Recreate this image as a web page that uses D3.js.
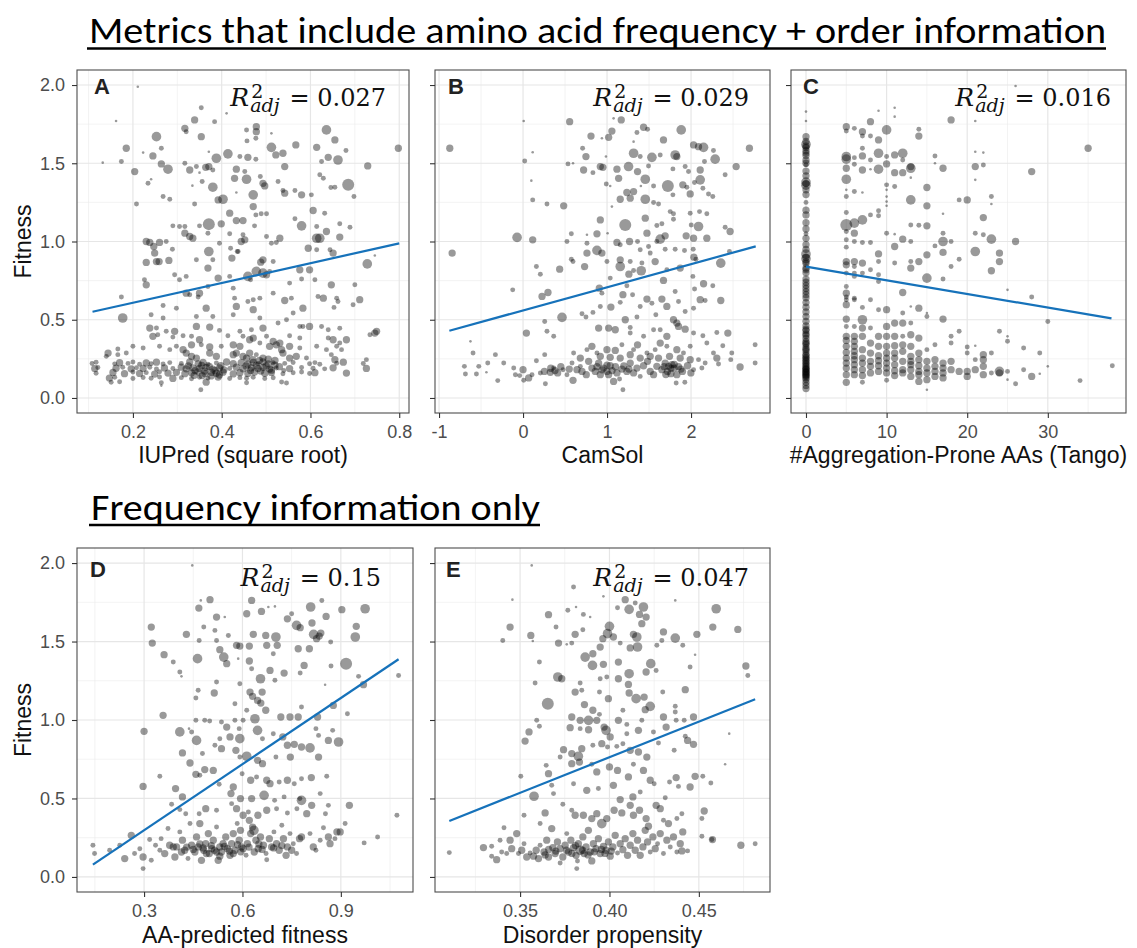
<!DOCTYPE html>
<html><head><meta charset="utf-8">
<script src="https://cdn.jsdelivr.net/npm/d3@7"></script>
<style>body{margin:0;background:#fff}svg{display:block}</style>
</head><body>
<svg id="chart" width="1137" height="948"></svg>
<script>
// ---------------- DATA ----------------
const titleTop = "Metrics that include amino acid frequency + order information";
const titleBottom = "Frequency information only";
const panelLetters = ["A","B","C","D","E"];
const xTitles = ["IUPred (square root)","CamSol","#Aggregation-Prone AAs (Tango)","AA-predicted fitness","Disorder propensity"];
const yTitle = "Fitness";
const r2Values = ["0.027","0.029","0.016","0.15","0.047"];
const yTickValues = [0,0.5,1,1.5,2];
const yTickLabels = ["0.0","0.5","1.0","1.5","2.0"];
const xTicksA = [0.2,0.4,0.6,0.8], xLabelsA = ["0.2","0.4","0.6","0.8"];
const xTicksB = [-1,0,1,2], xLabelsB = ["-1","0","1","2"];
const xTicksC = [0,10,20,30], xLabelsC = ["0","10","20","30"];
const xTicksD = [0.3,0.6,0.9], xLabelsD = ["0.3","0.6","0.9"];
const xTicksE = [0.35,0.40,0.45], xLabelsE = ["0.35","0.40","0.45"];
const fitA = [[0.109,0.551],[0.800,0.988]];
const fitB = [[-0.877,0.430],[2.77,0.969]];
const fitC = [[0,0.839],[37.9,0.509]];
const fitD = [[0.144,0.078],[1.076,1.387]];
const fitE = [[0.3104,0.357],[0.4815,1.132]];

// points: [x, fitness, weight]
const pointsA = [
[0.211,1.989,1],[0.162,1.770,1],[0.354,1.855,2],[0.339,1.777,3],[0.384,1.766,2],[0.411,1.819,1],[0.317,1.723,3],[0.320,1.702,2],[0.456,1.713,2],[0.478,1.734,3],[0.478,1.702,3],[0.636,1.713,4],[0.253,1.670,4],[0.354,1.670,3],[0.457,1.643,2],[0.477,1.660,2],[0.512,1.691,1],[0.655,1.649,3],
[0.185,1.596,3],[0.264,1.596,2],[0.223,1.568,1],[0.245,1.547,3],[0.371,1.574,1],[0.388,1.532,4],[0.414,1.560,4],[0.441,1.543,2],[0.459,1.538,3],[0.477,1.526,2],[0.512,1.602,4],[0.522,1.553,3],[0.538,1.564,3],[0.567,1.617,3],[0.614,1.602,3],[0.640,1.538,3],[0.662,1.521,4],[0.680,1.581,2],[0.798,1.596,3],
[0.174,1.511,2],[0.132,1.504,1],[0.264,1.496,3],[0.279,1.462,4],[0.317,1.500,2],[0.328,1.457,3],[0.343,1.479,2],[0.364,1.474,3],[0.371,1.479,3],[0.380,1.457,2],[0.350,1.440,1],[0.204,1.447,3],[0.433,1.462,3],[0.452,1.447,2],[0.542,1.479,3],[0.625,1.511,2],[0.729,1.483,3],
[0.234,1.372,2],[0.241,1.398,1],[0.334,1.357,1],[0.356,1.383,2],[0.380,1.347,4],[0.429,1.404,3],[0.456,1.398,4],[0.487,1.415,2],[0.493,1.372,3],[0.497,1.355,3],[0.527,1.383,2],[0.621,1.426,2],[0.629,1.404,2],[0.655,1.347,2],[0.646,1.345,2],[0.685,1.362,5],[0.565,1.326,2],[0.538,1.326,2],[0.542,1.309,3],[0.580,1.298,3],[0.602,1.298,2],
[0.268,1.287,2],[0.283,1.270,2],[0.208,1.240,2],[0.392,1.266,3],[0.403,1.270,4],[0.433,1.313,1],[0.471,1.298,4],[0.339,1.240,2],[0.471,1.223,3],[0.698,1.287,2],[0.606,1.198,3],[0.418,1.181,3],[0.477,1.170,2],[0.489,1.177,2],[0.501,1.177,2],[0.565,1.145,2],[0.632,1.181,2],
[0.290,1.100,2],[0.305,1.096,2],[0.317,1.096,2],[0.350,1.100,2],[0.371,1.111,5],[0.399,1.113,3],[0.433,1.134,3],[0.448,1.134,3],[0.474,1.100,2],[0.580,1.100,4],[0.614,1.096,2],[0.666,1.113,2],[0.689,1.091,2],
[0.317,1.053,3],[0.328,1.032,3],[0.335,1.021,3],[0.369,1.053,2],[0.418,1.049,2],[0.448,1.043,2],[0.501,1.032,2],[0.531,1.021,3],[0.636,1.064,3],[0.614,1.021,4],[0.621,1.021,4],[0.666,1.028,3],
[0.230,1.000,3],[0.238,0.994,3],[0.260,0.994,3],[0.275,1.000,2],[0.247,0.968,3],[0.289,0.951,2],[0.371,0.936,4],[0.395,0.989,2],[0.420,0.957,2],[0.437,0.936,2],[0.444,1.000,3],[0.452,1.011,3],[0.523,0.994,2],[0.512,0.989,2],[0.595,0.957,3],[0.614,0.947,2],[0.644,0.947,2],[0.651,0.926,3],
[0.230,0.866,3],[0.249,0.926,3],[0.253,0.872,3],[0.259,0.872,3],[0.281,0.879,3],[0.343,0.883,2],[0.369,0.830,3],[0.380,0.883,2],[0.423,0.894,3],[0.435,0.936,2],[0.488,0.868,3],[0.493,0.883,3],[0.516,0.872,2],[0.478,0.809,4],[0.493,0.798,4],[0.501,0.787,3],[0.576,0.819,3],[0.598,0.819,3],[0.728,0.857,4],[0.745,0.911,1],
[0.226,0.755,2],[0.230,0.723,3],[0.294,0.787,2],[0.305,0.755,2],[0.320,0.777,2],[0.392,0.766,3],[0.418,0.777,2],[0.426,0.702,2],[0.459,0.777,4],[0.465,0.755,2],[0.508,0.809,2],[0.553,0.734,2],[0.580,0.760,2],[0.610,0.755,2],[0.647,0.723,3],[0.700,0.723,2],
[0.174,0.645,2],[0.320,0.670,3],[0.328,0.660,2],[0.350,0.670,3],[0.347,0.645,2],[0.369,0.713,2],[0.429,0.638,2],[0.459,0.617,2],[0.471,0.628,2],[0.486,0.638,2],[0.516,0.670,2],[0.542,0.623,3],[0.557,0.638,2],[0.617,0.649,2],[0.629,0.638,3],[0.659,0.638,2],[0.711,0.628,3],[0.662,0.617,2],[0.696,0.596,2],
[0.268,0.591,2],[0.298,0.574,2],[0.365,0.574,3],[0.433,0.585,3],[0.471,0.564,3],[0.583,0.574,3],[0.653,0.579,2],
[0.177,0.511,4],[0.241,0.532,2],[0.268,0.511,2],[0.343,0.521,2],[0.380,0.521,2],[0.426,0.532,2],[0.486,0.511,2],[0.527,0.479,2],[0.546,0.500,2],[0.561,0.543,2],
[0.238,0.447,3],[0.253,0.447,2],[0.275,0.426,2],[0.294,0.426,3],[0.343,0.457,3],[0.373,0.453,3],[0.395,0.432,2],[0.441,0.426,2],[0.467,0.436,2],[0.493,0.447,3],[0.576,0.457,2],[0.583,0.457,2],[0.598,0.457,3],[0.625,0.457,2],[0.640,0.436,2],[0.666,0.445,2],[0.734,0.404,2],[0.745,0.415,3],[0.749,0.426,3],
[0.245,0.394,3],[0.256,0.404,2],[0.290,0.389,2],[0.313,0.398,2],[0.332,0.394,2],[0.350,0.372,3],[0.414,0.398,2],[0.448,0.394,2],[0.463,0.372,3],[0.471,0.383,3],[0.501,0.394,2],[0.516,0.362,3],[0.531,0.351,3],[0.553,0.398,2],[0.576,0.383,2],[0.640,0.383,2],[0.651,0.372,3],[0.681,0.372,3],[0.666,0.351,2],
[0.144,0.287,3],[0.166,0.313,2],[0.200,0.330,2],[0.223,0.319,2],[0.260,0.330,2],[0.283,0.309,2],[0.298,0.330,2],[0.313,0.309,3],[0.332,0.340,3],[0.354,0.340,2],[0.373,0.326,3],[0.399,0.330,2],[0.426,0.340,3],[0.441,0.330,3],[0.486,0.351,2],[0.508,0.330,3],[0.523,0.340,3],[0.535,0.309,3],[0.553,0.330,3],[0.576,0.319,2],[0.614,0.330,2],[0.636,0.309,2],[0.659,0.330,2],[0.670,0.309,2],
[0.140,0.266,2],[0.166,0.277,2],[0.185,0.287,2],[0.320,0.287,3],[0.332,0.266,3],[0.343,0.255,3],[0.373,0.287,3],[0.388,0.266,3],[0.426,0.277,3],[0.433,0.287,3],[0.448,0.266,3],[0.463,0.287,3],[0.478,0.277,2],[0.493,0.255,3],[0.538,0.287,3],[0.553,0.255,3],[0.568,0.266,3],[0.591,0.255,2],[0.647,0.277,2],[0.655,0.245,3],[0.726,0.245,2],
[0.108,0.220,2],[0.117,0.228,2],[0.159,0.218,2],[0.170,0.225,3],[0.189,0.221,2],[0.200,0.230,2],[0.215,0.216,2],[0.230,0.224,3],[0.241,0.219,2],[0.253,0.229,3],[0.268,0.217,2],[0.283,0.226,2],[0.309,0.221,2],[0.328,0.230,3],[0.347,0.218,3],[0.358,0.227,3],[0.369,0.215,2],[0.388,0.224,2],[0.411,0.230,3],[0.426,0.219,3],[0.444,0.226,3],[0.459,0.216,3],[0.471,0.228,3],[0.482,0.220,2],[0.493,0.231,3],[0.505,0.218,3],[0.516,0.225,2],[0.542,0.221,2],[0.561,0.227,2],[0.598,0.219,2],[0.610,0.226,2],[0.621,0.215,2],[0.659,0.222,2],[0.674,0.229,3],[0.719,0.220,2],
[0.114,0.188,3],[0.121,0.195,2],[0.162,0.190,3],[0.177,0.197,2],[0.196,0.186,3],[0.208,0.193,2],[0.223,0.189,3],[0.238,0.196,2],[0.253,0.185,2],[0.271,0.192,3],[0.290,0.188,2],[0.309,0.197,3],[0.320,0.186,3],[0.335,0.193,3],[0.350,0.189,3],[0.365,0.196,3],[0.380,0.185,3],[0.395,0.192,3],[0.418,0.188,2],[0.433,0.197,3],[0.448,0.186,3],[0.467,0.193,3],[0.482,0.189,3],[0.493,0.196,3],[0.508,0.185,3],[0.523,0.192,2],[0.553,0.188,3],[0.580,0.195,2],[0.606,0.190,2],[0.632,0.186,2],[0.651,0.193,3],[0.726,0.189,3],
[0.117,0.158,2],[0.155,0.163,3],[0.181,0.155,3],[0.200,0.166,2],[0.215,0.157,3],[0.230,0.162,2],[0.249,0.153,3],[0.260,0.167,2],[0.279,0.159,3],[0.298,0.164,3],[0.317,0.155,3],[0.332,0.161,3],[0.347,0.167,3],[0.362,0.156,3],[0.377,0.163,3],[0.388,0.158,3],[0.403,0.165,3],[0.426,0.154,3],[0.441,0.162,3],[0.459,0.157,3],[0.474,0.166,3],[0.497,0.158,3],[0.512,0.163,3],[0.538,0.155,2],[0.561,0.161,2],[0.580,0.166,2],[0.598,0.156,2],[0.610,0.162,3],[0.681,0.159,3],
[0.147,0.127,3],[0.159,0.133,2],[0.200,0.124,2],[0.223,0.131,2],[0.241,0.126,2],[0.260,0.134,2],[0.290,0.125,3],[0.309,0.130,2],[0.332,0.123,2],[0.350,0.132,2],[0.369,0.127,2],[0.392,0.134,3],[0.418,0.124,2],[0.441,0.130,2],[0.456,0.126,2],[0.471,0.133,2],[0.497,0.124,2],[0.516,0.129,2],
[0.151,0.100,2],[0.170,0.104,2],[0.264,0.098,2],[0.365,0.101,3],[0.456,0.097,2],[0.535,0.102,2],[0.546,0.096,2],[0.264,0.079,1],[0.353,0.053,2],
[0.325,0.205,3],[0.340,0.175,3],[0.355,0.208,3],[0.362,0.172,3],[0.372,0.202,3],[0.385,0.176,3],[0.398,0.207,3],[0.405,0.180,3],[0.338,0.145,3],[0.356,0.143,3],[0.376,0.141,3],[0.395,0.147,3],[0.455,0.205,3],[0.465,0.176,3],[0.478,0.208,3],[0.488,0.172,3],[0.500,0.205,3],[0.512,0.178,3],[0.520,0.210,3],[0.470,0.245,3],[0.456,0.255,3],[0.485,0.240,3],[0.505,0.248,3],[0.520,0.240,3],[0.530,0.200,3],[0.540,0.175,2]
];

const pointsB = [
[-0.872,1.596,3],[-0.844,0.926,3],[0.008,1.770,1],[0.020,1.515,2],[0.099,1.389,1],[0.115,1.570,1],[0.115,1.266,2],[-0.071,1.026,4],[0.115,1.011,3],[0.285,1.240,2],[0.484,1.228,3],[0.555,1.766,3],[0.535,1.496,2],[0.595,1.500,1],
[0.809,1.674,3],[0.939,1.660,1],[1.019,1.666,3],[1.058,1.706,3],[1.169,1.777,3],[1.078,1.787,1],[1.316,1.638,1],[1.356,1.696,2],[1.435,1.730,3],[1.482,1.717,2],[1.672,1.649,3],[1.883,1.713,4],
[0.709,1.596,2],[0.749,1.543,3],[0.987,1.543,1],[1.316,1.564,4],[1.395,1.543,2],[1.534,1.538,4],[1.633,1.553,2],[1.811,1.553,4],[1.831,1.543,3],[2.030,1.617,3],[2.089,1.606,3],[2.149,1.602,4],[2.267,1.581,2],[2.287,1.526,4],[2.695,1.596,3],[2.160,1.511,2],[2.537,1.479,3],
[0.721,1.457,3],[0.832,1.440,2],[0.920,1.479,3],[0.951,1.474,3],[1.118,1.462,3],[1.138,1.404,3],[1.256,1.479,4],[1.363,1.447,3],[1.494,1.483,2],[1.455,1.398,4],[1.784,1.464,2],[1.930,1.479,2],[1.970,1.447,2],[2.109,1.457,3],[2.109,1.394,4],[2.406,1.426,2],
[0.991,1.368,2],[1.038,1.355,1],[1.236,1.313,3],[1.316,1.319,3],[1.403,1.355,1],[1.554,1.355,2],[1.724,1.355,5],[1.902,1.362,3],[1.950,1.347,2],[2.041,1.377,2],[2.141,1.340,2],[2.208,1.304,2],[2.259,1.287,2],
[1.157,1.270,3],[1.276,1.277,3],[1.455,1.270,4],[1.554,1.249,2],[1.613,1.240,2],[1.784,1.298,2],[1.990,1.304,3],[1.058,1.223,1],
[0.920,1.138,3],[1.217,1.106,5],[1.455,1.149,3],[1.593,1.102,2],[1.653,1.113,2],[1.752,1.191,2],[1.791,1.177,2],[1.791,1.142,2],[1.990,1.181,2],[2.101,1.191,2],[2.188,1.177,2],[2.002,1.106,2],[2.089,1.096,4],[2.406,1.091,2],[2.465,1.064,3],
[0.575,1.049,2],[0.523,1.000,2],[0.761,1.043,1],[0.880,1.049,3],[1.007,1.053,1],[1.118,0.994,3],[1.157,0.979,2],[1.268,1.000,3],[1.363,1.000,2],[1.475,1.053,3],[1.494,0.968,2],[1.593,1.000,2],[1.633,1.015,4],[1.692,1.036,3],[1.942,1.036,3],[2.030,1.021,3],[2.188,1.021,3],
[0.761,0.989,2],[0.761,0.926,3],[0.880,0.943,4],[0.939,0.926,3],[0.999,0.872,2],[1.157,0.883,3],[1.276,0.872,2],[1.395,0.947,2],[1.514,0.926,2],[1.573,0.872,3],[1.692,0.951,2],[1.811,0.951,2],[1.922,0.943,2],[2.026,0.951,2],[2.034,0.900,3],[2.058,0.887,2],[2.354,0.862,4],[2.457,0.936,2],
[0.575,0.887,2],[0.595,0.872,2],[0.436,0.823,3],[0.159,0.840,2],[0.206,0.791,2],[0.733,0.840,3],[1.038,0.766,2],[1.157,0.840,4],[1.260,0.791,3],[1.316,0.815,2],[1.407,0.813,4],[1.415,0.862,2],[1.672,0.751,3],[1.712,0.819,2],[1.871,0.830,3],[2.022,0.777,2],[2.149,0.730,3],[2.042,0.696,2],[2.259,0.717,2],
[-0.123,0.691,2],[0.226,0.649,3],[0.297,0.674,3],[0.908,0.702,3],[0.939,0.670,2],[1.189,0.660,3],[1.236,0.717,2],[1.304,0.660,2],[1.475,0.632,3],[1.534,0.606,2],[1.653,0.632,3],[1.712,0.585,3],[1.811,0.681,2],[1.851,0.617,2],[1.930,0.553,2],[2.030,0.574,2],[2.109,0.628,3],[2.168,0.623,2],[2.354,0.623,3],
[0.920,0.585,2],[1.046,0.581,3],[1.157,0.611,2],[1.395,0.585,2],[0.464,0.515,4],[0.702,0.538,2],[0.749,0.517,2],[0.832,0.547,2],[1.217,0.500,3],[1.356,0.517,2],[1.581,0.532,2],[1.791,0.500,3],[1.831,0.479,3],[1.851,0.457,3],
[0.258,0.489,2],[0.040,0.415,3],[0.285,0.426,2],[0.365,0.394,2],[0.900,0.447,3],[1.019,0.447,3],[1.098,0.436,3],[1.276,0.451,2],[1.276,0.415,2],[1.435,0.394,2],[1.554,0.436,2],[1.633,0.436,2],[1.712,0.394,3],[1.930,0.440,3],[2.030,0.415,2],[2.141,0.398,2],[2.307,0.419,2],[2.438,0.415,3],
[-0.626,0.362,1],[-0.595,0.287,2],[-0.329,0.277,2],[-0.420,0.223,2],[-0.698,0.202,2],[-0.686,0.153,2],[-0.527,0.202,2],[-0.436,0.164,1],[-0.555,0.153,2],[-0.301,0.111,2],[-0.230,0.223,2],[-0.111,0.191,2],[0.000,0.181,3],[-0.091,0.149,2],[-0.040,0.143,2],[0.008,0.113,2],[0.067,0.128,3],[0.107,0.149,2],[0.159,0.238,2],[0.258,0.277,2],[0.266,0.091,2],
[0.206,0.160,2],[0.254,0.170,3],[0.325,0.164,3],[0.365,0.191,2],[0.412,0.160,3],[0.476,0.181,2],[0.523,0.149,2],[0.583,0.223,2],[0.595,0.113,3],[0.642,0.181,3],[0.682,0.202,2],[0.702,0.170,3],[0.753,0.149,3],[0.781,0.234,3],[0.820,0.191,3],[0.860,0.170,3],[0.900,0.223,3],[0.920,0.149,3],[0.959,0.191,3],[0.999,0.170,3],[1.019,0.149,3],[1.038,0.206,3],[1.078,0.106,3],[1.118,0.160,3],[1.149,0.121,2],[1.177,0.185,3],[1.189,0.053,2],
[1.236,0.170,3],[1.276,0.223,3],[1.316,0.160,3],[1.356,0.191,3],[1.395,0.138,2],[1.435,0.206,3],[1.482,0.234,3],[1.514,0.170,3],[1.554,0.149,3],[1.593,0.202,3],[1.653,0.181,3],[1.692,0.223,3],[1.732,0.202,3],[1.771,0.213,3],[1.799,0.191,3],[1.831,0.149,3],[1.823,0.096,2],[1.898,0.170,3],[1.926,0.100,2],[1.958,0.206,3],[1.998,0.160,3],[2.030,0.181,2],[2.089,0.245,2],[2.129,0.191,2],[2.168,0.223,2],[2.307,0.255,3],[2.327,0.217,2],[2.473,0.245,2],[2.584,0.198,3],[2.763,0.223,2],[2.763,0.340,2],[2.485,0.287,2],[2.378,0.334,2],
[0.761,0.309,2],[0.820,0.330,3],[0.880,0.287,2],[0.999,0.309,3],[1.098,0.304,3],[1.177,0.340,2],[1.316,0.309,2],[1.363,0.340,3],[1.475,0.287,2],[1.573,0.309,2],[1.633,0.351,3],[1.712,0.330,2],[1.831,0.309,3],[1.910,0.287,2],[1.990,0.330,2],[2.188,0.351,2],[2.267,0.287,2],
[0.602,0.287,2],[0.682,0.255,3],[0.920,0.266,3],[1.038,0.260,3],[1.157,0.255,3],[1.276,0.277,3],[1.395,0.255,3],[1.514,0.266,3],[1.613,0.255,3],[1.744,0.266,3],[1.871,0.255,3],[1.990,0.245,3],
[0.330,0.190,3],[0.380,0.175,3],[0.450,0.200,3],[0.550,0.185,3],[0.880,0.200,3],[0.940,0.180,3],[1.000,0.210,3],[1.060,0.175,3],[1.100,0.200,3],[1.200,0.205,3],[1.260,0.185,3],[1.680,0.200,3],[1.720,0.170,3],[1.760,0.190,3],[1.800,0.215,3],[1.850,0.200,3],[1.880,0.185,3],[1.700,0.150,3],[1.760,0.155,3]
];

const pointsC = [
[0,1.83,1],[0,1.77,1],[0,1.67,3],[0,1.64,3],[0,1.62,4],[0,1.60,3],[0,1.58,3],[0,1.55,3],[0,1.52,3],[0,1.49,2],[0,1.45,3],[0,1.42,3],[0,1.38,4],[0,1.36,4],[0,1.33,3],[0,1.30,3],[0,1.25,2],[0,1.20,3],[0,1.17,3],[0,1.12,3],[0,1.08,3],[0,1.05,2],[0,1.02,3],[0,0.98,3],[0,0.95,3],[0,0.92,4],[0,0.89,4],[0,0.86,3],[0,0.83,3],[0,0.80,3],[0,0.76,3],[0,0.72,3],[0,0.68,3],[0,0.64,3],[0,0.61,3],[0,0.58,3],[0,0.55,3],[0,0.52,3],[0,0.49,3],[0,0.46,3],[0,0.43,3],[0,0.40,3],[0,0.38,3],[0,0.36,3],[0,0.34,3],[0,0.32,3],[0,0.30,3],[0,0.28,3],[0,0.26,3],[0,0.24,3],[0,0.22,3],[0,0.21,3],[0,0.20,3],[0,0.19,3],[0,0.18,3],[0,0.17,3],[0,0.16,3],[0,0.15,3],[0,0.14,3],[0,0.13,3],[0,0.12,3],[0,0.10,3],[0,0.08,3],[0,0.06,3],
[0,1.61,3],[0,1.565,3],[0,1.50,3],[0,1.37,3],[0,0.90,3],[0,0.87,3],[0,0.82,3],[0,0.74,3],[0,0.70,3],[0,0.66,3],[0,0.44,3],[0,0.41,3],[0,0.35,3],[0,0.31,3],[0,0.27,3],[0,0.25,3],[0,0.23,3],[0,0.185,3],[0,0.165,3],[0,0.145,3],
[5,1.734,3],[5,1.706,2],[5,1.543,4],[5,1.526,4],[5,1.468,3],[5,1.398,4],[5,1.330,1],[5,1.287,2],[5,1.185,2],[5,1.106,5],[5,1.064,2],[5,1.011,2],[5,0.964,2],[5,0.872,3],[5,0.851,3],[5,0.798,2],[5,0.713,2],[5,0.670,3],[5,0.645,2],[5,0.628,2],[5,0.596,3],[5,0.504,3],[5,0.457,2],[5,0.394,3],[5,0.368,3],[5,0.330,3],[5,0.291,3],[5,0.255,3],[5,0.223,3],[5,0.191,3],[5,0.149,3],[5,0.100,3],
[6,1.723,2],[6,1.536,2],[6,1.494,2],[6,1.319,2],[6,1.117,4],[6,1.053,3],[6,1.000,2],[6,0.872,3],[6,0.840,2],[6,0.798,2],[6,0.777,2],[6,0.638,2],[6,0.628,2],[6,0.457,2],[6,0.394,3],[6,0.362,3],[6,0.330,3],[6,0.298,3],[6,0.270,3],[6,0.245,3],[6,0.213,3],[6,0.181,3],[6,0.149,3],
[7,1.702,3],[7,1.674,2],[7,1.596,2],[7,1.547,3],[7,1.457,3],[7,1.313,1],[7,1.138,4],[7,0.994,2],[7,0.862,3],[7,0.798,2],[7,0.579,2],[7,0.500,4],[7,0.447,3],[7,0.394,3],[7,0.309,3],[7,0.255,3],[7,0.223,3],[7,0.181,3],[7,0.143,3],[7,0.100,2],
[8,1.766,3],[8,1.674,2],[8,1.521,2],[8,1.462,1],[8,1.170,2],[8,0.994,2],[8,0.819,2],[8,0.628,2],[8,0.447,2],[8,0.351,3],[8,0.287,3],[8,0.234,3],[8,0.202,3],[8,0.160,3],
[9,1.836,1],[9,1.649,3],[9,1.564,4],[9,1.462,4],[9,1.196,2],[9,1.164,2],[9,0.921,3],[9,0.872,2],[9,0.787,2],[9,0.745,2],[9,0.564,2],[9,0.394,3],[9,0.330,3],[9,0.270,3],[9,0.238,3],[9,0.206,3],[9,0.170,3],
[10,1.713,4],[10,1.543,2],[10,1.496,3],[10,1.362,2],[10,1.330,1],[10,1.287,1],[10,1.255,1],[10,1.228,1],[10,1.053,2],[10,0.564,3],[10,0.457,3],[10,0.394,3],[10,0.330,3],[10,0.287,3],[10,0.255,3],[10,0.223,3],[10,0.191,3],[10,0.160,3],[10,0.113,2],
[11,1.855,1],[11,1.798,1],[11,1.553,3],[11,1.440,3],[11,1.351,2],[11,1.047,1],[11,0.968,3],[11,0.862,2],[11,0.479,3],[11,0.394,3],[11,0.334,3],[11,0.287,3],[11,0.255,3],[11,0.213,3],[11,0.174,3],[11,0.143,3],
[12,1.564,4],[12,1.521,2],[12,1.440,3],[12,1.015,3],[12,0.674,3],[12,0.543,2],[12,0.479,3],[12,0.394,2],[12,0.340,3],[12,0.298,3],[12,0.234,3],[12,0.181,3],[12,0.160,3],
[13,1.479,3],[13,1.468,4],[13,1.408,1],[13,1.266,4],[13,1.106,2],[13,1.000,2],[13,0.872,2],[13,0.830,3],[13,0.585,1],[13,0.479,2],[13,0.404,3],[13,0.330,3],[13,0.266,3],[13,0.234,3],[13,0.213,3],[13,0.181,3],[13,0.138,3],
[14,1.717,2],[14,1.674,3],[14,1.104,2],[14,0.872,3],[14,0.574,3],[14,0.383,3],[14,0.287,3],[14,0.245,3],[14,0.206,3],[14,0.170,3],[14,0.149,3],[14,0.106,3],
[15,1.345,3],[15,1.228,3],[15,1.100,3],[15,0.915,3],[15,0.766,4],[15,0.543,1],[15,0.521,2],[15,0.309,2],[15,0.234,3],[15,0.191,3],[15,0.160,3],[15,0.117,3],[15,0.053,1],
[16,1.547,2],[16,1.500,1],[16,0.972,2],[16,0.340,2],[16,0.245,3],[16,0.202,3],[16,0.170,3],[16,0.138,3],
[17,1.468,3],[17,1.177,1],[17,1.053,2],[17,1.000,4],[17,0.930,3],[17,0.760,2],[17,0.504,3],[17,0.223,3],[17,0.191,3],[17,0.160,3],[17,0.128,3],
[18,1.777,3],[18,1.000,2],[18,0.840,2],[18,0.394,2],[18,0.351,2],[18,0.234,3],[18,0.181,3],
[19,1.266,2],[19,0.887,2],[19,0.426,2],[19,0.170,3],
[20,1.266,3],[20,0.326,2],[20,0.287,2],[20,0.170,3],[20,0.138,3],
[21,1.770,1],[21,1.574,1],[21,1.479,3],[21,1.394,1],[21,1.053,2],[21,0.936,4],[21,0.334,1],[21,0.245,2],[21,0.181,3],
[22,1.568,1],[22,1.489,2],[22,1.153,3],[22,1.043,2],[22,0.277,3],[22,0.245,3],[22,0.202,3],[22,0.149,3],
[23,1.287,2],[23,1.240,1],[23,1.015,4],[23,0.813,3],[23,0.287,2],[23,0.160,2],
[24,0.926,3],[24,0.872,3],[24,0.426,2],[24,0.170,4],[24,0.160,3],
[25,0.691,1],[25,0.394,1],[25,0.362,2],[25,0.170,2],[25,0.117,1],
[26,1.994,1],[26,1.000,3],[26,0.091,2],
[27,0.319,2],[27,0.181,2],
[28,1.447,3],[28,0.645,2],[28,0.138,3],
[29,0.287,2],[29,0.155,1],
[30,0.489,2],[30,0.202,1],
[34,0.111,2],[35,1.596,3],[38,0.206,2]
];

const pointsD = [
[0.447,1.985,1],[0.501,1.767,3],[0.473,1.762,1],[0.467,1.713,3],[0.521,1.656,3],[0.546,1.656,1],[0.613,1.677,3],[0.628,1.762,3],[0.658,1.692,3],[0.679,1.720,1],[0.699,1.724,1],[0.737,1.645,3],[0.750,1.677,2],[0.808,1.720,4],[0.842,1.762,2],[0.855,1.660,3],[0.903,1.703,3],[0.974,1.709,4],
[0.322,1.592,3],[0.325,1.490,3],[0.429,1.546,3],[0.468,1.507,2],[0.482,1.592,2],[0.516,1.571,2],[0.557,1.539,2],[0.521,1.507,2],[0.531,1.448,3],[0.543,1.401,4],[0.552,1.359,3],[0.582,1.476,3],[0.592,1.471,3],[0.621,1.471,3],[0.633,1.546,3],[0.671,1.539,3],[0.702,1.529,4],[0.706,1.476,3],[0.674,1.476,3],[0.694,1.422,2],
[0.765,1.603,4],[0.776,1.588,3],[0.812,1.618,3],[0.817,1.546,4],[0.839,1.554,3],[0.826,1.518,3],[0.834,1.535,3],[0.869,1.497,2],[0.947,1.597,3],[0.944,1.529,4],[0.770,1.454,3],[0.804,1.454,3],
[0.361,1.416,3],[0.389,1.369,2],[0.463,1.391,4],[0.409,1.306,2],[0.414,1.278,1],[0.587,1.391,1],[0.621,1.376,3],[0.628,1.327,2],[0.655,1.263,4],[0.684,1.316,3],[0.699,1.253,2],[0.727,1.299,3],[0.776,1.299,2],[0.788,1.348,3],[0.870,1.344,2],[0.916,1.359,5],[0.954,1.278,2],[0.969,1.225,3],[1.076,1.284,2],
[0.521,1.242,2],[0.465,1.189,2],[0.514,1.172,3],[0.458,1.140,2],[0.592,1.231,2],[0.623,1.178,3],[0.631,1.151,3],[0.646,1.125,3],[0.656,1.108,3],[0.660,1.178,3],[0.671,1.062,3],[0.577,1.104,2],[0.613,1.062,2],[0.852,1.225,1],
[0.358,1.030,3],[0.300,0.928,3],[0.409,0.924,4],[0.458,0.998,2],[0.485,0.998,2],[0.500,0.994,2],[0.536,0.987,2],[0.552,0.955,3],[0.577,0.998,2],[0.590,0.945,2],[0.602,0.998,2],[0.638,1.008,4],[0.646,0.934,4],[0.717,1.019,3],[0.745,1.019,3],[0.770,1.019,3],[0.780,1.083,2],[0.829,1.019,3],[0.877,1.093,3],[0.920,1.040,2],[0.824,0.945,2],
[0.437,0.945,1],[0.445,0.924,2],[0.460,0.870,4],[0.531,0.881,2],[0.562,0.892,3],[0.592,0.881,4],[0.661,0.881,2],[0.694,0.913,2],[0.723,0.892,3],[0.737,0.839,3],[0.758,0.845,3],[0.832,0.902,2],[0.862,0.870,3],[0.893,0.860,4],[0.875,0.934,2],
[0.417,0.790,3],[0.440,0.726,3],[0.478,0.786,2],[0.516,0.839,2],[0.536,0.817,3],[0.580,0.807,3],[0.592,0.764,2],[0.613,0.769,4],[0.646,0.743,3],[0.661,0.722,3],[0.702,0.764,2],[0.746,0.764,3],[0.780,0.828,3],[0.806,0.822,4],[0.832,0.764,3],
[0.470,0.648,2],[0.458,0.654,3],[0.485,0.684,3],[0.511,0.679,3],[0.348,0.641,2],[0.529,0.590,2],[0.572,0.573,3],[0.599,0.658,2],[0.625,0.616,3],[0.643,0.637,2],[0.674,0.616,3],[0.684,0.594,3],[0.712,0.605,2],[0.737,0.616,3],[0.758,0.594,2],[0.780,0.626,2],[0.810,0.633,3],[0.857,0.641,2],
[0.297,0.577,3],[0.396,0.563,3],[0.417,0.510,3],[0.384,0.463,2],[0.565,0.531,3],[0.594,0.499,3],[0.628,0.499,3],[0.666,0.520,4],[0.698,0.488,2],[0.727,0.510,2],[0.775,0.499,2],[0.780,0.488,4],[0.837,0.531,2],[0.811,0.456,3],[0.862,0.456,2],[0.926,0.456,3],
[0.409,0.429,2],[0.427,0.403,2],[0.488,0.435,3],[0.468,0.403,2],[0.521,0.425,2],[0.567,0.467,2],[0.582,0.435,3],[0.602,0.393,3],[0.618,0.414,2],[0.647,0.393,3],[0.674,0.425,3],[0.704,0.435,2],[0.737,0.408,2],[0.766,0.435,2],[0.796,0.403,3],[0.853,0.403,2],[1.071,0.393,2],
[0.144,0.202,2],[0.149,0.149,2],[0.195,0.170,2],[0.241,0.117,3],[0.226,0.202,2],[0.261,0.265,3],[0.271,0.149,2],[0.287,0.180,2],[0.297,0.127,3],[0.297,0.053,2],[0.322,0.106,2],[0.317,0.238,2],[0.335,0.202,2],[0.352,0.244,2],[0.348,0.170,2],[0.363,0.149,3],[0.373,0.308,2],[0.378,0.202,3],[0.394,0.127,3],[0.399,0.191,3],
[0.409,0.287,2],[0.417,0.234,3],[0.424,0.170,3],[0.434,0.117,2],[0.440,0.340,2],[0.445,0.202,3],[0.455,0.159,3],[0.460,0.255,3],[0.465,0.191,3],[0.470,0.340,3],[0.475,0.106,3],[0.482,0.170,3],[0.488,0.212,3],[0.496,0.276,3],[0.499,0.149,3],[0.506,0.180,3],[0.511,0.234,3],[0.521,0.318,2],[0.526,0.106,3],[0.531,0.191,3],[0.536,0.159,3],[0.541,0.212,3],[0.549,0.255,3],[0.554,0.180,3],[0.562,0.138,3],[0.567,0.212,3],[0.572,0.276,3],[0.577,0.170,3],
[0.584,0.340,2],[0.590,0.234,3],[0.594,0.297,3],[0.602,0.180,3],[0.611,0.138,2],[0.615,0.212,3],[0.621,0.361,3],[0.625,0.276,3],[0.631,0.318,3],[0.635,0.297,4],[0.641,0.234,3],[0.648,0.180,3],[0.655,0.255,3],[0.664,0.202,3],[0.672,0.149,2],[0.674,0.110,2],[0.682,0.244,3],[0.689,0.191,3],[0.696,0.287,2],[0.704,0.212,3],[0.712,0.170,3],[0.720,0.329,2],[0.725,0.244,3],[0.733,0.138,3],[0.737,0.191,3],[0.745,0.276,2],[0.750,0.170,3],[0.755,0.212,2],[0.765,0.149,2],[0.774,0.244,3],[0.780,0.255,3],
[0.806,0.276,2],[0.816,0.191,3],[0.824,0.170,2],[0.837,0.234,2],[0.847,0.314,2],[0.862,0.255,3],[0.867,0.212,3],[0.882,0.244,2],[0.888,0.287,3],[0.898,0.287,3],[0.913,0.340,2],[0.971,0.217,2],[1.012,0.255,2],
[0.389,0.191,3],[0.414,0.159,3],[0.490,0.149,3],[0.521,0.159,3],[0.572,0.149,3],[0.597,0.191,3],[0.636,0.159,3],[0.531,0.132,3],
[0.430,0.190,3],[0.450,0.175,3],[0.470,0.210,3],[0.480,0.185,3],[0.505,0.200,3],[0.515,0.170,3],[0.545,0.195,3],[0.560,0.165,3],[0.585,0.205,3],[0.595,0.160,3],[0.620,0.190,3],[0.650,0.210,3],[0.660,0.175,3],[0.695,0.185,3],[0.720,0.200,3]
];

const pointsE = [
[0.3565,1.985,1],[0.3799,1.847,2],[0.3966,1.788,1],[0.3457,1.767,1],[0.3659,1.671,3],[0.3767,1.699,2],[0.3813,1.720,1],[0.3854,1.673,2],[0.3892,1.656,1],[0.4045,1.715,2],[0.4088,1.767,3],[0.4110,1.705,4],[0.4144,1.745,2],[0.4168,1.673,3],[0.4190,1.720,4],[0.4205,1.656,3],[0.4181,1.614,3],[0.4368,1.762,1],[0.4597,1.709,4],[0.4578,1.592,3],[0.4718,1.577,3],
[0.3444,1.592,3],[0.3403,1.507,2],[0.3560,1.539,3],[0.3571,1.503,1],[0.3701,1.592,2],[0.3715,1.490,3],[0.3761,1.482,1],[0.3789,1.490,2],[0.3808,1.546,3],[0.3851,1.575,2],[0.3864,1.401,4],[0.3907,1.422,3],[0.3948,1.465,3],[0.3963,1.518,3],[0.3989,1.550,4],[0.4000,1.597,4],[0.4022,1.529,3],[0.4060,1.490,2],[0.4116,1.459,3],[0.4134,1.546,3],[0.4153,1.529,4],[0.4157,1.465,4],[0.4231,1.359,4],[0.4265,1.476,2],[0.4293,1.507,2],[0.4302,1.561,3],[0.4368,1.522,4],[0.4410,1.476,2],[0.4479,1.416,1],[0.4489,1.546,3],
[0.3608,1.369,2],[0.3905,1.348,4],[0.3966,1.355,3],[0.4050,1.369,3],[0.4110,1.295,4],[0.4205,1.306,3],[0.4261,1.316,2],[0.4451,1.338,2],[0.4763,1.344,3],[0.4774,1.284,2],
[0.3711,1.274,4],[0.3733,1.263,3],[0.3836,1.236,2],[0.3948,1.263,2],[0.3985,1.274,2],[0.4050,1.263,3],[0.3584,1.236,2],[0.3808,1.178,3],[0.3845,1.189,2],[0.3944,1.178,2],[0.3994,1.136,3],[0.4106,1.227,3],[0.4110,1.172,3],[0.4149,1.136,4],[0.4194,1.146,3],[0.4228,1.087,4],[0.4298,1.178,2],[0.4424,1.193,3],
[0.3655,1.104,5],[0.3860,1.098,3],[0.3907,1.062,3],[0.3944,1.036,2],[0.4075,1.062,2],[0.4200,1.066,3],[0.4368,1.087,2],
[0.3789,1.019,3],[0.3836,0.998,3],[0.3883,0.998,4],[0.3929,0.998,3],[0.3970,0.955,3],[0.4050,0.998,3],[0.4097,0.972,2],[0.4181,0.998,2],[0.4302,1.019,3],[0.4368,1.051,2],[0.4373,0.998,2],[0.4418,0.998,2],[0.4470,1.019,3],
[0.3593,0.998,2],[0.3608,0.960,2],[0.3550,0.924,3],[0.3528,0.866,3],[0.3780,0.951,3],[0.3836,0.945,2],[0.3883,0.938,3],[0.3981,0.934,4],[0.4004,0.892,3],[0.4097,0.913,2],[0.4162,0.934,3],[0.4246,0.924,2],[0.4317,0.955,3],[0.4424,0.896,2],[0.4437,0.870,3],[0.4470,0.845,3],[0.4670,0.913,1],
[0.3743,0.811,3],[0.3826,0.769,4],[0.3789,0.786,3],[0.3845,0.817,3],[0.3907,0.839,2],[0.3957,0.849,3],[0.3989,0.828,2],[0.4041,0.832,2],[0.4075,0.849,2],[0.4116,0.807,3],[0.4162,0.796,3],[0.4209,0.764,3],[0.4274,0.853,2],[0.4362,0.807,2],[0.3724,0.764,2],
[0.3646,0.711,2],[0.3659,0.658,3],[0.3677,0.584,2],[0.3789,0.722,3],[0.3832,0.732,3],[0.3901,0.718,2],[0.3929,0.669,3],[0.4000,0.701,3],[0.4045,0.679,3],[0.4106,0.637,3],[0.4134,0.718,2],[0.4190,0.679,3],[0.4228,0.616,3],[0.4250,0.594,2],[0.4336,0.605,2],[0.4373,0.633,3],[0.4386,0.577,2],[0.4451,0.573,3],[0.4479,0.641,3],[0.4522,0.641,2],[0.4567,0.599,2],[0.4647,0.718,1],
[0.3504,0.641,2],[0.3578,0.514,4],[0.3687,0.531,2],[0.3799,0.594,2],[0.3873,0.552,3],[0.3938,0.563,2],[0.4022,0.584,3],[0.4060,0.493,3],[0.4131,0.510,3],[0.4172,0.541,2],[0.4312,0.505,2],
[0.3522,0.393,2],[0.3612,0.340,2],[0.3640,0.408,3],[0.3739,0.463,2],[0.3789,0.425,2],[0.3808,0.393,3],[0.3854,0.393,3],[0.3901,0.372,3],[0.3929,0.403,3],[0.3957,0.340,4],[0.3985,0.372,3],[0.4026,0.425,3],[0.4069,0.408,3],[0.4116,0.456,3],[0.4134,0.393,3],[0.4168,0.425,3],[0.4205,0.372,3],[0.4218,0.323,3],[0.4261,0.456,3],[0.4284,0.435,3],[0.4302,0.361,2],[0.4330,0.340,3],[0.4377,0.372,2],[0.4405,0.403,2],[0.4530,0.420,3],[0.4517,0.372,2],[0.4573,0.238,2],[0.4517,0.259,2],
[0.3104,0.155,2],[0.3295,0.187,3],[0.3341,0.195,2],[0.3341,0.132,2],[0.3369,0.110,3],[0.3388,0.234,2],[0.3397,0.159,2],[0.3410,0.314,2],[0.3425,0.149,2],[0.3444,0.234,3],[0.3453,0.180,3],[0.3481,0.276,3],[0.3491,0.149,2],[0.3509,0.170,3],[0.3522,0.212,2],[0.3537,0.127,3],[0.3556,0.153,2],[0.3575,0.132,3],[0.3590,0.170,3],[0.3603,0.117,3],[0.3612,0.202,2],[0.3634,0.159,3],[0.3649,0.234,3],[0.3659,0.127,3],
[0.3677,0.308,3],[0.3683,0.187,3],[0.3696,0.149,3],[0.3709,0.223,3],[0.3724,0.180,3],[0.3739,0.127,3],[0.3752,0.202,3],[0.3761,0.276,2],[0.3771,0.159,3],[0.3784,0.234,3],[0.3799,0.187,3],[0.3813,0.138,3],[0.3821,0.102,2],[0.3826,0.212,3],[0.3836,0.170,4],[0.3851,0.255,3],[0.3858,0.149,3],[0.3869,0.191,3],[0.3882,0.297,3],[0.3892,0.159,3],[0.3901,0.102,3],[0.3910,0.212,3],[0.3925,0.180,3],[0.3938,0.244,3],[0.3948,0.149,3],
[0.3966,0.195,3],[0.3981,0.170,3],[0.3994,0.223,3],[0.4004,0.132,3],[0.4019,0.191,3],[0.4032,0.265,3],[0.4045,0.153,2],[0.4060,0.212,3],[0.4075,0.174,3],[0.4088,0.244,3],[0.4101,0.138,3],[0.4116,0.202,3],[0.4131,0.276,3],[0.4144,0.170,3],[0.4157,0.234,3],[0.4172,0.138,3],[0.4187,0.191,3],[0.4200,0.297,3],[0.4213,0.223,3],[0.4228,0.159,2],[0.4243,0.255,3],[0.4256,0.180,3],[0.4269,0.212,2],[0.4284,0.276,3],[0.4302,0.149,2],[0.4321,0.234,3],[0.4340,0.191,2],[0.4358,0.255,3],[0.4377,0.159,2],[0.4396,0.212,3],[0.4405,0.166,3],[0.4437,0.166,2],[0.4410,0.287,3],
[0.4576,0.238,3],[0.4735,0.202,3],[0.4815,0.212,2],[0.3724,0.089,2],[0.3817,0.053,2],
[0.3760,0.170,3],[0.3790,0.150,3],[0.3810,0.200,3],[0.3850,0.170,3],[0.3880,0.140,3],[0.3915,0.160,3],[0.3955,0.175,3],[0.3975,0.150,3],[0.4010,0.165,3],[0.3700,0.165,3],[0.3660,0.175,3],[0.3640,0.140,3]
];

// ---------------- LAYOUT ----------------
const svg = d3.select("#chart");
const FONT = "'Liberation Sans', Arial, Helvetica, sans-serif";
const TITLEFONT = "Carlito, Calibri, Lato, 'Open Sans', sans-serif";
const MATHFONT = "'DejaVu Serif', 'Liberation Serif', serif";

const panels = [
  {box:[77,409,70,413],  xd:[0.074,0.822], ticks:xTicksA, labels:xLabelsA, pts:pointsA, fit:fitA, showY:true, letterX:94,  r2End:386, row:0},
  {box:[435,770,70,413], xd:[-1.048,2.94], ticks:xTicksB, labels:xLabelsB, pts:pointsB, fit:fitB, showY:false, letterX:448, r2End:749, row:0},
  {box:[791,1126,70,413], xd:[-1.86,39.7], ticks:xTicksC, labels:xLabelsC, pts:pointsC, fit:fitC, showY:false, letterX:803, r2End:1111, row:0},
  {box:[77,413,548,892], xd:[0.0955,1.12], ticks:xTicksD, labels:xLabelsD, pts:pointsD, fit:fitD, showY:true, letterX:90,  r2End:381, row:1},
  {box:[435,770,548,892], xd:[0.3024,0.4898], ticks:xTicksE, labels:xLabelsE, pts:pointsE, fit:fitE, showY:false, letterX:446, r2End:749, row:1}
];
const rowInfo = [{letterY:94, r2Y:106, titleY:463}, {letterY:577, r2Y:586, titleY:943}];
const rScale = d3.scaleLinear().domain([1,5]).range([1.3,6.0]);

function minorOf(ticks, dom){
  const step = ticks[1]-ticks[0]; const out=[];
  for(let v=ticks[0]-step/2; v<=ticks[ticks.length-1]+step/2+1e-9; v+=step){ if(v>=dom[0]&&v<=dom[1]) out.push(+v.toFixed(6)); }
  return out;
}
function measure(txt, style){
  const t = svg.append("text").style("font-family",MATHFONT).style("font-size",style.size).style("font-style",style.italic?"italic":"normal").text(txt);
  const w = t.node().getComputedTextLength(); t.remove(); return w;
}

panels.forEach((p,i)=>{
  const [x0,x1,y0,y1] = p.box;
  const x = d3.scaleLinear().domain(p.xd).range([x0,x1]);
  const y = d3.scaleLinear().domain([-0.096,2.096]).range([y1,y0]);
  const g = svg.append("g");
  const grid = g.append("g");
  minorOf(p.ticks,p.xd).forEach(v=>grid.append("line").attr("x1",x(v)).attr("x2",x(v)).attr("y1",y0).attr("y2",y1).attr("stroke","#EBEBEB").attr("stroke-width",0.6));
  minorOf(yTickValues,y.domain()).forEach(v=>grid.append("line").attr("x1",x0).attr("x2",x1).attr("y1",y(v)).attr("y2",y(v)).attr("stroke","#EBEBEB").attr("stroke-width",0.6));
  p.ticks.forEach(v=>grid.append("line").attr("x1",x(v)).attr("x2",x(v)).attr("y1",y0).attr("y2",y1).attr("stroke","#E6E6E6").attr("stroke-width",1.2));
  yTickValues.forEach(v=>grid.append("line").attr("x1",x0).attr("x2",x1).attr("y1",y(v)).attr("y2",y(v)).attr("stroke","#E6E6E6").attr("stroke-width",1.2));
  g.append("g").selectAll("circle").data(p.pts).join("circle")
    .attr("cx",d=>x(d[0])).attr("cy",d=>y(d[1])).attr("r",d=>rScale(d[2]))
    .attr("fill","#000").attr("fill-opacity",0.4);
  g.append("path").datum(p.fit).attr("d",d3.line().x(d=>x(d[0])).y(d=>y(d[1])))
    .attr("stroke","#1672BA").attr("stroke-width",2.2).attr("fill","none");
  g.append("rect").attr("x",x0).attr("y",y0).attr("width",x1-x0).attr("height",y1-y0)
    .attr("fill","none").attr("stroke","#4D4D4D").attr("stroke-width",1.1);
  const xa = g.append("g").attr("transform",`translate(0,${y1})`)
    .call(d3.axisBottom(x).tickValues(p.ticks).tickFormat((d,k)=>p.labels[k]).tickSize(5).tickPadding(7));
  const ya = g.append("g").attr("transform",`translate(${x0},0)`)
    .call(d3.axisLeft(y).tickValues(yTickValues).tickFormat((d,k)=>p.showY?yTickLabels[k]:"").tickSize(5).tickPadding(7));
  [xa,ya].forEach(a=>{
    a.select(".domain").remove();
    a.selectAll(".tick line").attr("stroke","#333").attr("stroke-width",1.1);
    a.selectAll(".tick text").attr("fill","#4D4D4D").style("font-family",FONT).style("font-size","18px");
  });
  svg.append("text").attr("x",(x0+x1)/2).attr("y",rowInfo[p.row].titleY).attr("text-anchor","middle")
    .style("font-family",FONT).style("font-size","23px").attr("fill","#111").text(xTitles[i]);
  if(p.showY){
    svg.append("text").attr("transform",`translate(31,${(y0+y1)/2}) rotate(-90)`).attr("text-anchor","middle")
      .style("font-family",FONT).style("font-size","23px").attr("fill","#111").text(yTitle);
  }
  svg.append("text").attr("x",p.letterX).attr("y",rowInfo[p.row].letterY)
    .style("font-family",FONT).style("font-size","22px").style("font-weight","bold").attr("fill","#222").text(panelLetters[i]);
  const ry = rowInfo[p.row].r2Y;
  const eqTxt = "= " + r2Values[i];
  const wR = measure("R",{size:"25px",italic:true});
  const wAdj = measure("adj",{size:"19px",italic:true});
  const wEq = measure(eqTxt,{size:"24px",italic:false});
  const start = p.r2End - (wR + 1 + wAdj + 10 + wEq);
  const t = svg.append("text").style("font-family",MATHFONT).attr("fill","#111");
  t.append("tspan").attr("x",start).attr("y",ry).style("font-style","italic").style("font-size","25px").text("R");
  t.append("tspan").attr("x",start+wR+2).attr("y",ry-8).style("font-size","19px").text("2");
  t.append("tspan").attr("x",start+wR+1).attr("y",ry+6).style("font-style","italic").style("font-size","19px").text("adj");
  t.append("tspan").attr("x",start+wR+1+wAdj+10).attr("y",ry).style("font-size","24px").text(eqTxt);
});

function sectionTitle(txt, xs, xe, yb, yu){
  svg.append("text").attr("x",xs).attr("y",yb).attr("textLength",xe-xs).attr("lengthAdjust","spacingAndGlyphs")
    .style("font-family",TITLEFONT).style("font-size","37px").attr("fill","#000").text(txt);
  svg.append("line").attr("x1",xs-2).attr("x2",xe).attr("y1",yu).attr("y2",yu).attr("stroke","#000").attr("stroke-width",2.6);
}
sectionTitle(titleTop, 89, 1106, 43, 48.5);
sectionTitle(titleBottom, 91, 540, 520, 525);
</script>
</body></html>
